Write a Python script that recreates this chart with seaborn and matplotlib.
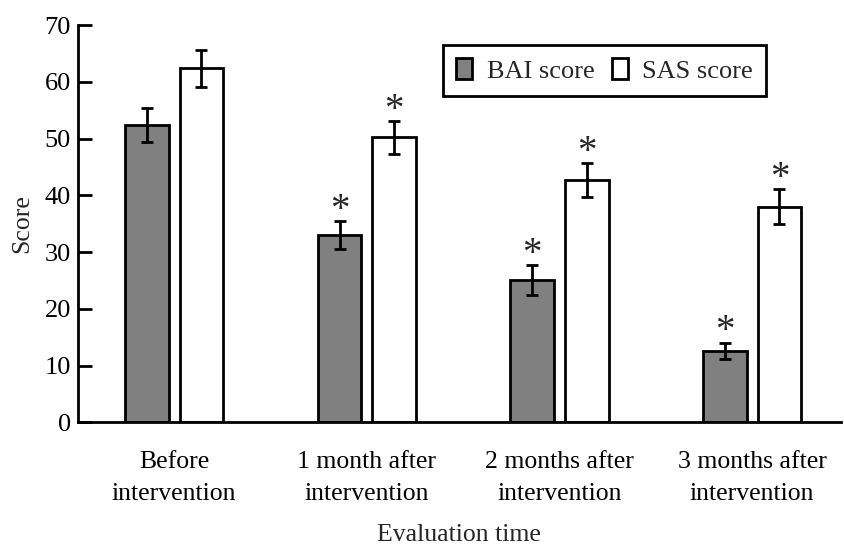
import pandas as pd
import matplotlib.pyplot as plt
import seaborn as sns

# values
times = ["Before\nintervention", "1 month after\nintervention",
         "2 months after\nintervention", "3 months after\nintervention"]
bai_mean = [52.4, 33.0, 25.1, 12.6]
bai_err = [3.0, 2.4, 2.6, 1.4]
sas_mean = [62.4, 50.2, 42.7, 38.0]
sas_err = [3.3, 2.9, 3.0, 3.1]
bai_sig = [False, True, True, True]
sas_sig = [False, True, True, True]

df = pd.DataFrame({
    "time": times * 2,
    "scale": ["BAI score"] * 4 + ["SAS score"] * 4,
    "score": bai_mean + sas_mean,
})

sns.set_style("ticks")
plt.rcParams["font.family"] = ["Liberation Serif", "DejaVu Serif"]

fig, ax = plt.subplots(figsize=(8.45, 5.47), dpi=100)
fig.subplots_adjust(left=0.092, right=0.995, bottom=0.228, top=0.954)

sns.barplot(data=df, x="time", y="score", hue="scale",
            palette={"BAI score": "#808080", "SAS score": "white"},
            width=0.566, gap=0.2, edgecolor="black", linewidth=2,
            errorbar=None, ax=ax)

errs = [bai_err, sas_err]
sigs = [bai_sig, sas_sig]
for cont, err, sig in zip(ax.containers, errs, sigs):
    xs = [p.get_x() + p.get_width() / 2 for p in cont.patches]
    hs = [p.get_height() for p in cont.patches]
    ax.errorbar(xs, hs, yerr=err, fmt="none", ecolor="black",
                elinewidth=2, capsize=4.3, capthick=2, zorder=3)
    for x, h, e, s in zip(xs, hs, err, sig):
        if s:
            ax.annotate("*", (x, h + e), xytext=(0, 1), textcoords="offset points",
                        ha="center", va="baseline", fontsize=28)

ax.set_ylim(0, 70)
ax.set_xlim(-0.5, 3.46)
ax.set_yticks(range(0, 71, 10))
sns.despine(ax=ax)
for s in ["left", "bottom"]:
    ax.spines[s].set_linewidth(2)
    ax.spines[s].set_color("black")
ax.tick_params(axis="y", direction="in", length=10, width=2, pad=5,
               labelsize=19, colors="black")
ax.tick_params(axis="x", length=0, pad=21, labelsize=18.5, colors="black")
for lab in ax.get_xticklabels():
    lab.set_linespacing(1.55)
ax.set_ylabel("Score", fontsize=18.5, labelpad=8)
ax.set_xlabel("Evaluation time", fontsize=18.5, labelpad=13.5)

sns.move_legend(ax, "upper left", bbox_to_anchor=(0.479, 0.95), ncol=2,
                title=None, frameon=True, fancybox=False, fontsize=19,
                handlelength=0.6, handleheight=0.85, handletextpad=0.55,
                columnspacing=0.65, borderaxespad=0, borderpad=0.5)
leg = ax.get_legend()
leg.get_frame().set_edgecolor("black")
leg.get_frame().set_linewidth(2)
leg.get_frame().set_alpha(1)
for h in leg.legend_handles:
    h.set_edgecolor("black")
    h.set_linewidth(2)

plt.savefig("out.png", dpi=100)
